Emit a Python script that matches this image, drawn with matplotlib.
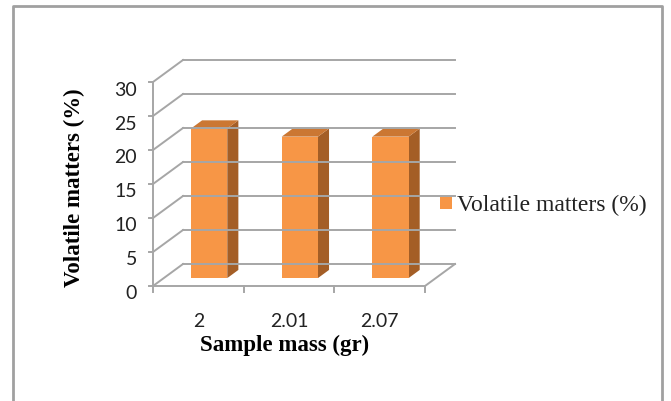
import matplotlib
matplotlib.use("Agg")
import matplotlib.pyplot as plt
from matplotlib.patches import Polygon, Rectangle

# Data
sample_mass = ["2", "2.01", "2.07"]
volatile_pct = [22.0, 20.8, 20.8]
y_ticks = [0, 5, 10, 15, 20, 25, 30]

# Oblique 3D frame (pixel space)
X0, X1 = 153, 425        # front floor edge
Y0 = 287                 # value 0 on the front plane
VMAX = 30
K = (Y0 - 83) / VMAX     # px per unit
DX, DY = 30, -22         # depth offset
BAR_W = 0.40             # fraction of a slot
D_FRONT, D_BACK = 0.36, 0.73

FRONT = "#F79646"
TOP = "#CB7733"
SIDE = "#A45E26"
GRID = "#A6A6A6"


def proj(x, v, d):
    return (x + d * DX, Y0 - v * K + d * DY)


fig = plt.figure(figsize=(6.71, 4.02), dpi=100)
ax = fig.add_axes([0, 0, 1, 1])
ax.set_xlim(0, 671)
ax.set_ylim(402, 0)
ax.axis("off")

# outer frame
ax.plot([12.5, 12.5, 662, 662], [402, 7, 7, 402], color="#A0A0A0", lw=2.0)

# back wall gridlines + left wall diagonals
for v in y_ticks:
    xa, ya = proj(X0, v, 1)
    xb, yb = proj(X1, v, 1)
    ax.plot([xa, xb], [ya, yb], color=GRID, lw=1.4)
    xf, yf = proj(X0, v, 0)
    ax.plot([xf, xa], [yf, ya], color=GRID, lw=1.4)
    ax.plot([xf - 4, xf], [yf, yf], color=GRID, lw=1.4)
    ax.text(137, yf + 7, str(v), ha="right", va="center",
            fontsize=14, family="Lato", color="#222222")

# left axis line
ax.plot([X0, X0], [Y0, Y0 - VMAX * K], color=GRID, lw=1.4)

# floor
fx = [proj(X0, 0, 0), proj(X1, 0, 0), proj(X1, 0, 1)]
ax.plot([p[0] for p in fx], [p[1] for p in fx], color=GRID, lw=1.4)

slot = (X1 - X0) / len(sample_mass)
for i in range(len(sample_mass) + 1):
    x = X0 + i * slot
    ax.plot([x, x], [Y0, Y0 + 6], color=GRID, lw=1.4)

# bars
for i, (lab, val) in enumerate(zip(sample_mass, volatile_pct)):
    cx = X0 + (i + 0.5) * slot
    xl = cx - BAR_W * slot / 2
    xr = cx + BAR_W * slot / 2
    fl0 = proj(xl, 0, D_FRONT)
    fr0 = proj(xr, 0, D_FRONT)
    fl1 = proj(xl, val, D_FRONT)
    fr1 = proj(xr, val, D_FRONT)
    br0 = proj(xr, 0, D_BACK)
    br1 = proj(xr, val, D_BACK)
    bl1 = proj(xl, val, D_BACK)
    ax.add_patch(Polygon([fr0, br0, br1, fr1], closed=True, fc=SIDE, ec="none"))
    ax.add_patch(Polygon([fl1, fr1, br1, bl1], closed=True, fc=TOP, ec="none"))
    ax.add_patch(Polygon([fl0, fr0, fr1, fl1], closed=True, fc=FRONT, ec="none"))
    ax.text(cx, 322, lab, ha="center", va="center",
            fontsize=14, family="Lato", color="#222222")

# axis titles
ax.text(285, 345, "Sample mass (gr)", ha="center", va="center",
        fontsize=16.5, family="Liberation Serif", weight="bold")
ax.text(74, 188, "Volatile matters (%)", ha="center", va="center",
        rotation=90, fontsize=16.5, family="Liberation Serif", weight="bold")

# legend
ax.add_patch(Rectangle((440, 198), 12, 12, fc=FRONT, ec="none"))
ax.text(457, 205, "Volatile matters (%)", ha="left", va="center",
        fontsize=17, family="Liberation Serif", color="#222222")

fig.savefig("out.png", dpi=100)
